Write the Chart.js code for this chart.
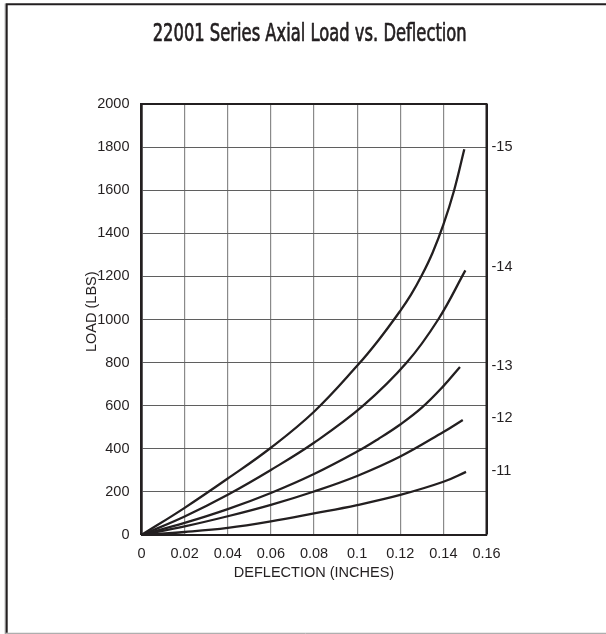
<!DOCTYPE html>
<html>
<head>
<meta charset="utf-8">
<script src="https://cdn.jsdelivr.net/npm/chart.js@4.4.1/dist/chart.umd.min.js"></script>
<style>
  html, body { margin: 0; padding: 0; background: #ffffff; }
  #wrap { position: relative; width: 606px; height: 634px; }
</style>
</head>
<body>
<div id="wrap"><canvas id="c"></canvas></div>
<script>
// ---- data ----
const chartTitle = '22001 Series Axial Load vs. Deflection';
const xAxisTitle = 'DEFLECTION (INCHES)';
const yAxisTitle = 'LOAD (LBS)';

const xTickLabels = ['0', '0.02', '0.04', '0.06', '0.08', '0.1', '0.12', '0.14', '0.16'];
const yTickLabels = ['0', '200', '400', '600', '800', '1000', '1200', '1400', '1600', '1800', '2000'];

const seriesNames = ['-11', '-12', '-13', '-14', '-15'];
const labelLoads  = [298, 541, 783, 1244, 1800];

const defl11 = [0, 0.02, 0.04, 0.06, 0.08, 0.10, 0.12, 0.14, 0.1505];
const load11 = [0, 14, 33, 63, 100, 139, 186, 247, 293];

const defl12 = [0, 0.02, 0.04, 0.06, 0.08, 0.10, 0.12, 0.14, 0.149];
const load12 = [0, 40, 87, 140, 202, 274, 364, 478, 534];

const defl13 = [0, 0.02, 0.04, 0.06, 0.08, 0.10, 0.11, 0.12, 0.13, 0.14, 0.1477];
const load13 = [0, 56, 120, 195, 283, 387, 447, 513, 591, 691, 780];

const defl14 = [0, 0.02, 0.04, 0.06, 0.08, 0.1028, 0.123, 0.1376, 0.1502];
const load14 = [0, 86, 187, 302, 428, 600, 800, 1000, 1228];

const defl15 = [0, 0.02, 0.04, 0.06, 0.08, 0.10, 0.11, 0.12, 0.125, 0.13, 0.135, 0.14, 0.145, 0.1497];
const load15 = [0, 126, 262, 405, 572, 785, 905, 1040, 1115, 1205, 1310, 1440, 1600, 1790];

// ---- build datasets ----
const INK = '#231f20';
function pts(xs, ys) { return xs.map((x, i) => ({ x: x, y: ys[i] })); }
const seriesX = [defl11, defl12, defl13, defl14, defl15];
const seriesY = [load11, load12, load13, load14, load15];
const datasets = seriesNames.map((n, i) => ({
  label: n,
  data: pts(seriesX[i], seriesY[i]),
  borderColor: INK,
  borderWidth: 2.3,
  pointRadius: 0,
  fill: false,
  tension: 0.4
}));

const FONT = "'Liberation Sans', Arial, Helvetica, sans-serif";
const tickFont = { family: FONT, size: 14.5 };

const framePlugin = {
  id: 'frame',
  beforeDraw(chart) {
    const ctx = chart.ctx;
    ctx.save();
    ctx.fillStyle = '#ffffff';
    ctx.fillRect(0, 0, chart.width, chart.height);
    ctx.strokeStyle = '#9a9a9a';
    ctx.lineWidth = 1;
    ctx.beginPath();
    ctx.moveTo(5.2, 3.5); ctx.lineTo(5.2, 634);
    ctx.moveTo(5, 633.3); ctx.lineTo(606, 633.3);
    ctx.stroke();
    ctx.strokeStyle = INK;
    ctx.lineWidth = 2;
    ctx.beginPath();
    ctx.moveTo(5.7, 4.3); ctx.lineTo(606, 4.3);
    ctx.moveTo(6.7, 3.3); ctx.lineTo(6.7, 632.8);
    ctx.stroke();
    ctx.restore();
  },
  afterDraw(chart) {
    const ctx = chart.ctx;
    const ca = chart.chartArea;
    const ys = chart.scales.y;
    ctx.save();
    // plot border top/right
    ctx.strokeStyle = INK;
    ctx.lineWidth = 2;
    ctx.beginPath();
    ctx.moveTo(ca.left, ca.top); ctx.lineTo(ca.right, ca.top); ctx.lineTo(ca.right, ca.bottom);
    ctx.stroke();
    // series labels at right
    ctx.fillStyle = INK;
    ctx.font = "14.5px " + FONT;
    ctx.textAlign = 'left';
    ctx.textBaseline = 'middle';
    seriesNames.forEach((n, i) => {
      ctx.fillText(n, ca.right + 5, ys.getPixelForValue(labelLoads[i]));
    });
    // y axis title
    ctx.save();
    ctx.translate(91.5, 311.7);
    ctx.rotate(-Math.PI / 2);
    ctx.textAlign = 'center';
    ctx.textBaseline = 'middle';
    ctx.fillText(yAxisTitle, 0, 0);
    ctx.restore();
    // title
    ctx.font = "25px 'DejaVu Sans Condensed', 'Liberation Sans Narrow', sans-serif";
    const w = ctx.measureText(chartTitle).width;
    const targetW = 314;
    const sx = targetW / w;
    ctx.translate(309.7, 40.7);
    ctx.scale(sx, 1);
    ctx.textAlign = 'center';
    ctx.textBaseline = 'alphabetic';
    ctx.strokeStyle = INK;
    ctx.lineWidth = 0.7;
    ctx.lineJoin = 'round';
    ctx.fillText(chartTitle, 0, 0);
    ctx.strokeText(chartTitle, 0, 0);
    ctx.restore();
  }
};

new Chart(document.getElementById('c'), {
  type: 'line',
  data: { datasets: datasets },
  options: {
    responsive: true,
    maintainAspectRatio: false,
    animation: false,
    events: [],
    layout: { padding: { left: 75, right: 119.5, top: 104, bottom: 0 } },
    plugins: { legend: { display: false }, title: { display: false }, tooltip: { enabled: false } },
    scales: {
      x: {
        type: 'linear',
        min: 0, max: 0.16,
        afterBuildTicks(scale) {
          scale.ticks = xTickLabels.map((t, i) => ({ value: i * 0.02 }));
        },
        afterFit(scale) { scale.height = 99; },
        ticks: {
          font: tickFont, color: INK, padding: 10, maxRotation: 0, autoSkip: false,
          callback: (v, i) => xTickLabels[i]
        },
        grid: {
          drawTicks: false,
          color: (c) => (c.index === xTickLabels.length - 1 ? INK : '#8a8a8a'),
          lineWidth: (c) => (c.index === xTickLabels.length - 1 ? 2 : 1.2)
        },
        border: { display: true, color: INK, width: 2 },
        title: {
          display: true, text: xAxisTitle, color: INK, font: tickFont,
          padding: { top: 0, bottom: 52 }
        }
      },
      y: {
        type: 'linear',
        min: 0, max: 2000,
        afterBuildTicks(scale) {
          scale.ticks = yTickLabels.map((t, i) => ({ value: i * 200 }));
        },
        afterFit(scale) { scale.width = 66.5; },
        ticks: {
          font: tickFont, color: INK, padding: 12, autoSkip: false,
          callback: (v, i) => yTickLabels[i]
        },
        grid: {
          drawTicks: false,
          color: (c) => (c.index === yTickLabels.length - 1 ? INK : '#5f5f5f'),
          lineWidth: (c) => (c.index === yTickLabels.length - 1 ? 2 : 1.1)
        },
        border: { display: true, color: INK, width: 2.7 },
        title: { display: false }
      }
    }
  },
  plugins: [framePlugin]
});
</script>
</body>
</html>
